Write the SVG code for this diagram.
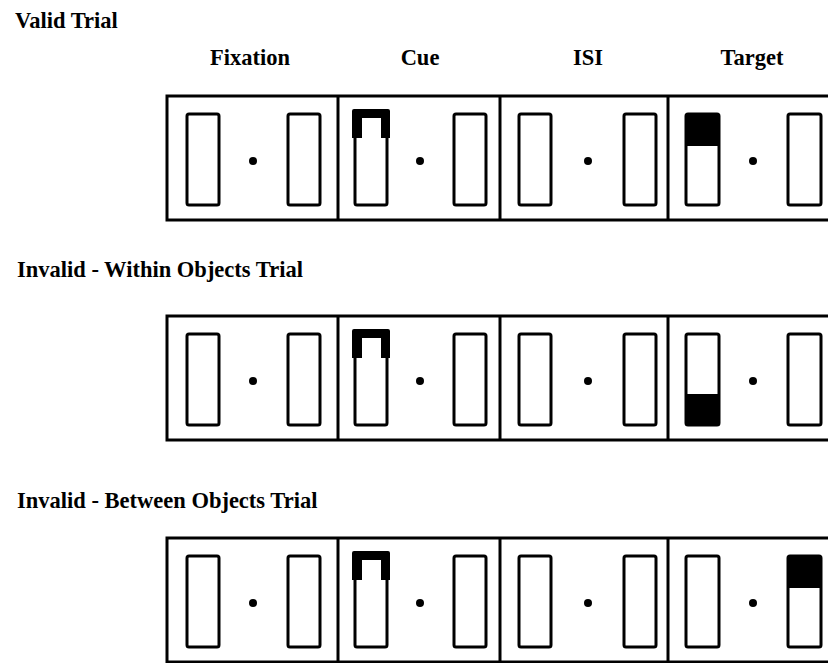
<svg xmlns="http://www.w3.org/2000/svg" width="828" height="663" viewBox="0 0 828 663">
<style>
.t{font-family:"Liberation Serif","Times New Roman",serif;font-weight:bold;font-size:22.5px;fill:#000}
.box{fill:none;stroke:#000;stroke-width:3}
.div{stroke:#000;stroke-width:3}
.ph{fill:#fff;stroke:#000;stroke-width:3}
.fill{fill:#000}
</style>
<defs>
<g id="frame">
<rect class="box" x="167" y="0" width="700" height="124"/>
<line class="div" x1="338" y1="0" x2="338" y2="124"/>
<line class="div" x1="500" y1="0" x2="500" y2="124"/>
<line class="div" x1="668" y1="0" x2="668" y2="124"/>
<rect class="ph" x="187" y="18" width="32" height="91" rx="2"/>
<rect class="ph" x="288" y="18" width="32" height="91" rx="2"/>
<circle class="fill" cx="253" cy="65" r="4"/>
<rect class="ph" x="355" y="18" width="32" height="91" rx="2"/>
<path class="fill" d="M354,13 h34 q2,0 2,2 v27 h-9 v-20 h-19 v20 h-10 v-27 q0,-2 2,-2 z"/>
<rect class="ph" x="454" y="18" width="32" height="91" rx="2"/>
<circle class="fill" cx="420" cy="65" r="4"/>
<rect class="ph" x="519" y="18" width="32" height="91" rx="2"/>
<rect class="ph" x="624" y="18" width="32" height="91" rx="2"/>
<circle class="fill" cx="588" cy="65" r="4"/>
<rect class="ph" x="686" y="18" width="33" height="91" rx="2"/>
<rect class="ph" x="788" y="18" width="33" height="91" rx="2"/>
<circle class="fill" cx="753" cy="65" r="4"/>
</g>
</defs>
<g id="titles">
<text class="t" x="15" y="28">Valid Trial</text>
<text class="t" x="17" y="277">Invalid - Within Objects Trial</text>
<text class="t" x="17" y="508">Invalid - Between Objects Trial</text>
</g>
<g id="headers">
<text class="t" x="250" y="65" text-anchor="middle">Fixation</text>
<text class="t" x="420" y="65" text-anchor="middle">Cue</text>
<text class="t" x="588" y="65" text-anchor="middle">ISI</text>
<text class="t" x="752" y="65" text-anchor="middle">Target</text>
</g>
<g id="valid" transform="translate(0,96)">
<use href="#frame"/>
<rect class="fill" x="686" y="18" width="33" height="32"/>
</g>
<g id="within" transform="translate(0,316)">
<use href="#frame"/>
<rect class="fill" x="686" y="78" width="33" height="31"/>
</g>
<g id="between" transform="translate(0,538)">
<use href="#frame"/>
<rect class="fill" x="788" y="18" width="33" height="32"/>
</g>
<g id="connectors"/>
</svg>
